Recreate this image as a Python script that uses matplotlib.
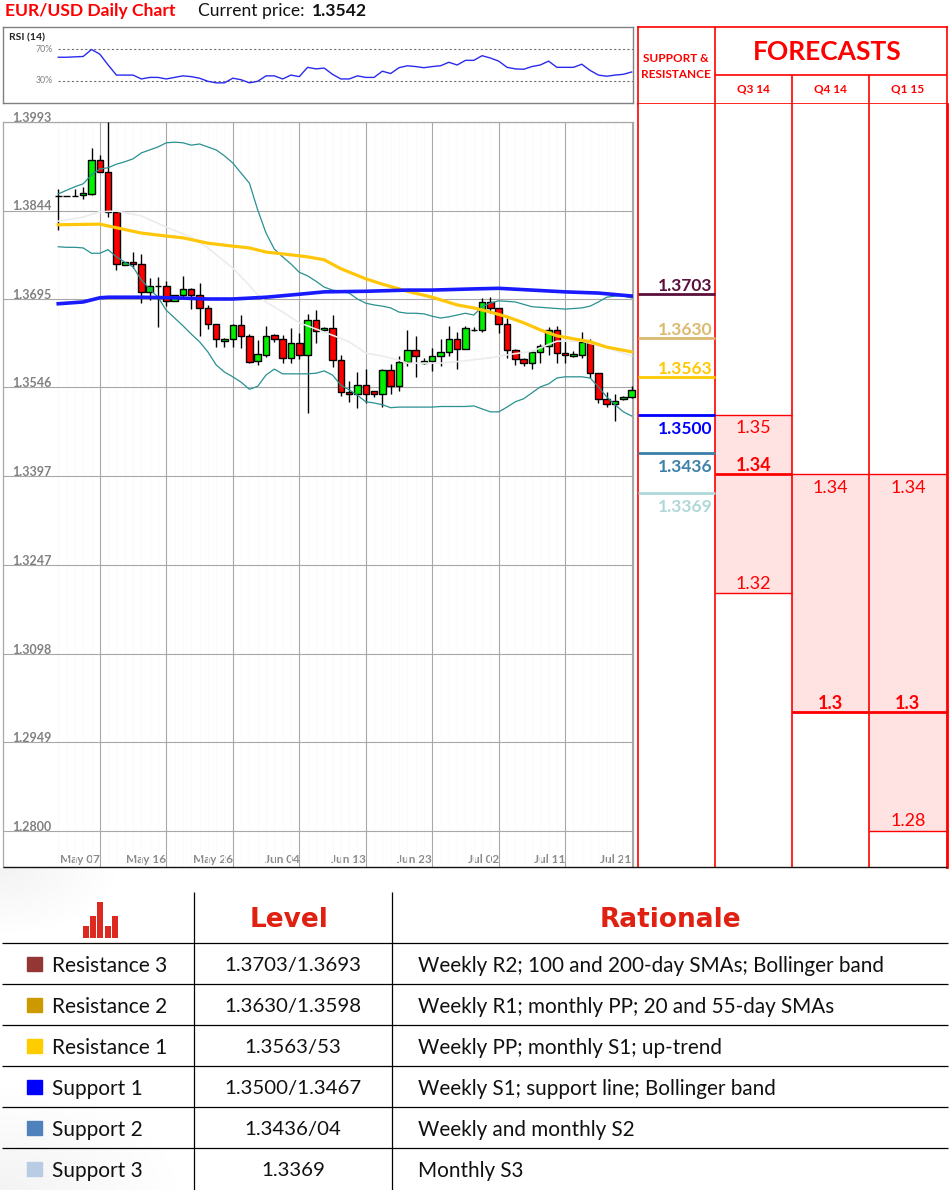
import numpy as np
import matplotlib
matplotlib.use('Agg')
import matplotlib.pyplot as plt
from matplotlib.patches import Rectangle
from matplotlib.transforms import ScaledTranslation

plt.rcParams['font.family'] = ['Lato', 'DejaVu Sans']

# daily candles
opens = [1.3868, 1.3868, 1.3868, 1.3870, 1.3872, 1.3929, 1.3909, 1.3842, 1.3752, 1.3757,
         1.3754, 1.3707, 1.3717, 1.3717, 1.3692, 1.3702, 1.3712, 1.3702, 1.3680, 1.3653,
         1.3624, 1.3628, 1.3651, 1.3633, 1.3591, 1.3601, 1.3634, 1.3628, 1.3596, 1.3621,
         1.3601, 1.3660, 1.3643, 1.3646, 1.3592, 1.3538, 1.3535, 1.3550, 1.3540, 1.3535,
         1.3575, 1.3548, 1.3589, 1.3609, 1.3587, 1.3591, 1.3599, 1.3606, 1.3628, 1.3611,
         1.3643, 1.3643, 1.3690, 1.3680, 1.3653, 1.3609, 1.3594, 1.3587, 1.3606, 1.3616,
         1.3643, 1.3604, 1.3599, 1.3601, 1.3623, 1.3570, 1.3527, 1.3518, 1.3527, 1.3530]
highs = [1.3880, 1.3868, 1.3880, 1.3884, 1.3949, 1.3937, 1.3993, 1.3842, 1.3757, 1.3774,
         1.3771, 1.3730, 1.3732, 1.3725, 1.3702, 1.3734, 1.3714, 1.3722, 1.3685, 1.3653,
         1.3629, 1.3653, 1.3668, 1.3636, 1.3626, 1.3650, 1.3636, 1.3634, 1.3646, 1.3638,
         1.3670, 1.3676, 1.3648, 1.3668, 1.3601, 1.3557, 1.3572, 1.3577, 1.3540, 1.3577,
         1.3586, 1.3599, 1.3643, 1.3633, 1.3596, 1.3613, 1.3628, 1.3650, 1.3639, 1.3650,
         1.3648, 1.3697, 1.3698, 1.3680, 1.3663, 1.3611, 1.3596, 1.3609, 1.3619, 1.3648,
         1.3650, 1.3624, 1.3607, 1.3639, 1.3628, 1.3570, 1.3538, 1.3535, 1.3532, 1.3549]
lows = [1.3811, 1.3868, 1.3868, 1.3863, 1.3870, 1.3909, 1.3833, 1.3744, 1.3752, 1.3747,
        1.3688, 1.3693, 1.3648, 1.3683, 1.3692, 1.3698, 1.3678, 1.3633, 1.3644, 1.3614,
        1.3614, 1.3614, 1.3612, 1.3587, 1.3584, 1.3597, 1.3623, 1.3587, 1.3587, 1.3594,
        1.3503, 1.3621, 1.3641, 1.3580, 1.3532, 1.3522, 1.3512, 1.3520, 1.3530, 1.3513,
        1.3535, 1.3540, 1.3582, 1.3564, 1.3586, 1.3574, 1.3582, 1.3599, 1.3577, 1.3611,
        1.3641, 1.3639, 1.3671, 1.3638, 1.3596, 1.3584, 1.3582, 1.3577, 1.3587, 1.3601,
        1.3587, 1.3587, 1.3597, 1.3596, 1.3562, 1.3520, 1.3513, 1.3490, 1.3525, 1.3528]
closes = [1.3868, 1.3868, 1.3868, 1.3873, 1.3929, 1.3909, 1.3842, 1.3754, 1.3757, 1.3754,
          1.3707, 1.3717, 1.3717, 1.3692, 1.3702, 1.3712, 1.3702, 1.3680, 1.3653, 1.3628,
          1.3628, 1.3651, 1.3633, 1.3589, 1.3602, 1.3633, 1.3628, 1.3596, 1.3621, 1.3601,
          1.3660, 1.3641, 1.3646, 1.3592, 1.3538, 1.3535, 1.3550, 1.3535, 1.3535, 1.3575,
          1.3548, 1.3589, 1.3609, 1.3599, 1.3591, 1.3599, 1.3606, 1.3628, 1.3611, 1.3646,
          1.3643, 1.3690, 1.3680, 1.3653, 1.3609, 1.3594, 1.3587, 1.3606, 1.3616, 1.3643,
          1.3604, 1.3601, 1.3602, 1.3623, 1.3570, 1.3527, 1.3518, 1.3523, 1.3530, 1.3542]

# indicators, one value per day
bb_upper = [1.3872, 1.3878, 1.3884, 1.3889, 1.3904, 1.3914, 1.3916, 1.3922, 1.3926, 1.3931,
            1.3941, 1.3946, 1.3951, 1.3958, 1.3959, 1.3958, 1.3954, 1.3956, 1.3951, 1.3946,
            1.3936, 1.3924, 1.3907, 1.3890, 1.3845, 1.3806, 1.3779, 1.3766, 1.3754, 1.3740,
            1.3734, 1.3725, 1.3715, 1.3710, 1.3708, 1.3705, 1.3695, 1.3688, 1.3685, 1.3683,
            1.3680, 1.3673, 1.3671, 1.3671, 1.3670, 1.3666, 1.3663, 1.3665, 1.3668, 1.3671,
            1.3668, 1.3682, 1.3688, 1.3692, 1.3691, 1.3690, 1.3686, 1.3682, 1.3681, 1.3680,
            1.3679, 1.3678, 1.3679, 1.3680, 1.3683, 1.3690, 1.3698, 1.3700, 1.3700, 1.3697]
bb_lower = [1.3783, 1.3782, 1.3782, 1.3781, 1.3772, 1.3772, 1.3778, 1.3766, 1.3757, 1.3749,
            1.3727, 1.3712, 1.3698, 1.3676, 1.3663, 1.3650, 1.3636, 1.3623, 1.3606, 1.3584,
            1.3572, 1.3564, 1.3555, 1.3543, 1.3548, 1.3567, 1.3577, 1.3569, 1.3569, 1.3569,
            1.3569, 1.3570, 1.3574, 1.3567, 1.3550, 1.3542, 1.3533, 1.3522, 1.3520, 1.3517,
            1.3512, 1.3513, 1.3513, 1.3513, 1.3513, 1.3513, 1.3514, 1.3514, 1.3514, 1.3514,
            1.3515, 1.3510, 1.3505, 1.3505, 1.3513, 1.3522, 1.3527, 1.3537, 1.3547, 1.3552,
            1.3562, 1.3564, 1.3564, 1.3564, 1.3562, 1.3547, 1.3530, 1.3517, 1.3505, 1.3498]
sma20_days = [0, 3, 5, 7, 10, 13, 16, 18, 21, 23, 24, 25, 27, 29, 33, 35, 37, 39, 41, 42,
              46, 49, 52, 54, 57, 60, 63, 66, 69]
sma20 = [1.3826, 1.3833, 1.3842, 1.3843, 1.3835, 1.3816, 1.3799, 1.3781, 1.3747, 1.3718,
         1.3702, 1.3690, 1.3673, 1.3655, 1.3634, 1.3623, 1.3604, 1.3599, 1.3592, 1.3587,
         1.3587, 1.3591, 1.3596, 1.3601, 1.3607, 1.3624, 1.3624, 1.3613, 1.3599]
sma55_days = [0, 5, 7, 10, 13, 15, 18, 21, 23, 25, 27, 30, 32, 34, 37, 39, 42, 45, 48, 50,
              52, 54, 56, 58, 60, 62, 64, 66, 69]
sma55 = [1.3820, 1.3821, 1.3815, 1.3806, 1.3801, 1.3798, 1.3789, 1.3784, 1.3781, 1.3774,
         1.3771, 1.3766, 1.3761, 1.3746, 1.3729, 1.3720, 1.3708, 1.3698, 1.3685, 1.3680,
         1.3673, 1.3665, 1.3655, 1.3643, 1.3633, 1.3628, 1.3623, 1.3614, 1.3606]
sma200_days = [0, 3, 5, 6, 10, 14, 18, 21, 25, 29, 32, 37, 42, 45, 50, 53, 57, 61, 65, 69]
sma200 = [1.3687, 1.3690, 1.3697, 1.3698, 1.3698, 1.3697, 1.3695, 1.3695, 1.3698, 1.3703,
          1.3707, 1.3708, 1.3710, 1.3710, 1.3712, 1.3713, 1.3710, 1.3707, 1.3705, 1.3700]
rsi = [60, 60, 60.5, 61, 70, 64, 50, 37, 37, 37,
       32, 34, 34, 32, 34, 36, 35, 33, 29, 27,
       27, 33, 31, 27, 29, 36, 36, 32, 37, 35,
       47, 45, 46, 38, 32, 32, 36, 34, 34, 42,
       39, 46.5, 49, 48, 46.5, 48, 49, 53.5, 50, 56,
       56, 62, 59, 55, 47, 45, 44.5, 48, 50, 55,
       47, 47, 47, 51, 43, 37, 35.5, 37, 38, 41]

# axis labels
price_ticks = [1.3993, 1.3844, 1.3695, 1.3546, 1.3397, 1.3247, 1.3098, 1.2949, 1.2800]
date_days = [5, 13, 21, 29, 37, 45, 53, 61, 69]
date_labels = ['May 07', 'May 16', 'May 26', 'Jun 04', 'Jun 13', 'Jun 23', 'Jul 02', 'Jul 11', 'Jul 21']

# support and resistance
sr_levels = [1.3703, 1.3630, 1.3563, 1.3500, 1.3436, 1.3369]
sr_colors = ['#5b0f3b', '#dcb96e', '#ffc800', '#0000ff', '#3d80a8', '#b0d8d8']

# forecasts
quarters = ['Q3 14', 'Q4 14', 'Q1 15']
fc_high = [1.35, 1.34, 1.34]
fc_median = [1.34, 1.30, 1.30]
fc_low = [1.32, 1.30, 1.28]

# table
row_names = ['Resistance 3', 'Resistance 2', 'Resistance 1', 'Support 1', 'Support 2', 'Support 3']
row_colors = ['#943634', '#cc9900', '#ffcc00', '#0000ff', '#4f81bd', '#b8cce4']
row_levels = ['1.3703/1.3693', '1.3630/1.3598', '1.3563/53', '1.3500/1.3467', '1.3436/04', '1.3369']
row_reasons = ['Weekly R2; 100 and 200-day SMAs; Bollinger band',
               'Weekly R1; monthly PP; 20 and 55-day SMAs',
               'Weekly PP; monthly S1; up-trend',
               'Weekly S1; support line; Bollinger band',
               'Weekly and monthly S2',
               'Monthly S3']
icon_bars = [12, 22, 36, 12, 22]

W, H = 949, 1190
RED = '#ff0000'
fig = plt.figure(figsize=(W / 100, H / 100), dpi=100)


def ax_px(x0, y0, x1, y1):
    return fig.add_axes([x0 / W, 1 - y1 / H, (x1 - x0) / W, (y1 - y0) / H])


# page layer in pixels, for the title and the table
page = ax_px(0, 0, W, H)
page.set_zorder(3)
page.patch.set_alpha(0)
page.axis('off')

page.text(5, 11, 'EUR/USD Daily Chart', color=RED, fontsize=12.6, fontweight='bold', va='center')
page.text(198, 11, 'Current price:', color='#111111', fontsize=12.6, va='center')
page.text(312, 11, '1.3542', color='#111111', fontsize=12.6, fontweight='bold', va='center')

# faint grey shading behind the left of the table
yy, xx = np.mgrid[868:H, 0:200]
shade = np.clip(1 - np.hypot(xx / 190, (yy - H) / 110), 0, 1) * 0.05
shade = np.maximum(shade, np.clip(1 - np.hypot(xx / 125, (yy - 868) / 70), 0, 1) * 0.05)
page.imshow(np.dstack([np.zeros_like(shade)] * 3 + [shade]), extent=(0, 200, H, 868), aspect='auto', zorder=0)
page.set_xlim(0, W)
page.set_ylim(H, 0)

# rsi panel
x_min, x_max = -6.65, 69.1
rs = ax_px(3, 27, 632.5, 103)
rs.set_xlim(x_min, x_max)
rs.set_ylim(1, 99)
rs.set_xticks([])
rs.set_yticks([])
for s in rs.spines.values():
    s.set_color('#808080')
    s.set_linewidth(1)
days = list(range(len(rsi)))
rs.hlines([70, 30], 0, x_max, color='#707070', lw=0.8, linestyles=(0, (2, 2)))
rs.plot(days, rsi, color='#2a2aee', lw=1)
rs.text(-5.95, 85, 'RSI (14)', fontsize=7.5, fontweight='bold', color='#222222', va='center')
rs.text(-0.7, 70, '70%', fontsize=6.3, color='#808080', ha='right', va='center')
rs.text(-0.7, 30, '30%', fontsize=6.3, color='#808080', ha='right', va='center')

# price panel
px_price = 0.0149 / 88.5
y_top = 1.3993
y_bot = y_top - 745 * px_price
ax = ax_px(3, 122, 632.5, 867)
ax.set_xlim(x_min, x_max)
ax.set_ylim(y_bot, y_top)
for s in ax.spines.values():
    s.set_color('#a8a8a8')
    s.set_linewidth(0.9)
ax.spines['bottom'].set_visible(False)

ax.set_xticks(date_days)
ax.set_xticklabels(date_labels, ha='right', fontsize=8.5, fontweight='bold', color='#8c8c8c')
shift = ScaledTranslation(-3 / 100, 0, fig.dpi_scale_trans)
for lab in ax.get_xticklabels():
    lab.set_transform(lab.get_transform() + shift)
ax.set_xticks(days, minor=True)
ax.set_yticks(price_ticks)
ax.set_yticklabels([f'{p:.4f}' for p in price_ticks], fontsize=9, fontweight='bold', color='#808080',
                   ha='left', va='baseline')
ax.tick_params(axis='x', which='major', length=0, pad=-9.5)
ax.tick_params(axis='x', which='minor', length=0)
ax.tick_params(axis='y', length=0, pad=-6.5)
ax.grid(True, which='major', color='#a8a8a8', lw=0.8)
ax.grid(True, which='minor', axis='x', color='#fafafa', lw=0.7)
ax.set_axisbelow(True)

colors = ['#00f000' if c > o else RED for o, c in zip(opens, closes)]
ax.vlines(days, lows, highs, color='black', lw=1, zorder=3, clip_on=False)
ax.bar(days, [c - o for o, c in zip(opens, closes)], bottom=opens, width=0.78, color=colors,
       edgecolor='black', linewidth=1, zorder=4, clip_on=False)

ax.plot(sma20_days, sma20, color='#ececec', lw=1.2, zorder=5)
ax.plot(days, bb_upper, color='#2a9090', lw=0.9, zorder=6)
ax.plot(days, bb_lower, color='#2a9090', lw=0.9, zorder=6)
ax.plot(sma55_days, sma55, color='#ffc60a', lw=2.3, zorder=7)
ax.plot(sma200_days, sma200, color='#1a1aff', lw=2.6, zorder=8)

# forecast header
head = ax_px(637.5, 26.5, 946.5, 103.5)
head.set_xlim(0, 4)
head.set_ylim(77, 0)
head.set_xticks([])
head.set_yticks([])
for s in head.spines.values():
    s.set_color(RED)
    s.set_linewidth(1.2)
head.vlines(1, 0, 77, color=RED, lw=1.2)
head.hlines(48, 1, 4, color=RED, lw=1.2)
head.vlines([2, 3], 48, 77, color=RED, lw=1.2)
head.text(0.5, 32, 'SUPPORT &', color=RED, fontsize=8.5, fontweight='bold', ha='center', va='center')
head.text(0.5, 48, 'RESISTANCE', color=RED, fontsize=8.5, fontweight='bold', ha='center', va='center')
head.text(2.45, 25, 'FORECASTS', color=RED, fontsize=19, fontweight='bold', ha='center', va='center')
for i, q in enumerate(quarters):
    head.text(i + 1.5, 62.5, q, color=RED, fontsize=8.5, fontweight='bold', ha='center', va='center')

# forecast columns, same price scale as the chart
fc = ax_px(637.5, 103.5, 946.5, 867)
fc.set_xlim(0, 4)
fc.set_ylim(y_bot, y_top + 18.5 * px_price)
fc.set_xticks([])
fc.set_yticks([])
for side, s in fc.spines.items():
    s.set_color(RED)
    s.set_linewidth(1.2)
fc.spines['right'].set_linewidth(2)
fc.spines['top'].set_visible(False)
fc.spines['bottom'].set_visible(False)
fc.vlines([1, 2, 3], y_bot, y_top + 18.5 * px_price, color=RED, lw=1.2, zorder=4)

for i, level in enumerate(sr_levels):
    fc.hlines(level, 0, 1, color=sr_colors[i], lw=2, zorder=5)
    off = 0 if i < 3 else -4.5
    fc.annotate(f'{level:.4f}', (1, level), xytext=(-1.5, off), textcoords='offset points', ha='right',
                va='bottom' if i < 3 else 'top', color=sr_colors[i], fontsize=12.5, fontweight='bold')

for i in range(3):
    col = i + 1
    fc.bar(col + 0.5, fc_high[i] - fc_low[i], bottom=fc_low[i], width=1, color='#ffe2e2', zorder=1)
    fc.hlines(fc_high[i], col, col + 1, color=RED, lw=1, zorder=3)
    fc.hlines(fc_low[i], col, col + 1, color=RED, lw=1, zorder=3)
    fc.hlines(fc_median[i], col, col + 1, color=RED, lw=2, zorder=3)
    fc.annotate(f'{fc_high[i]:g}', (col + 0.5, fc_high[i]), xytext=(0, -4), textcoords='offset points',
                ha='center', va='top', color=RED, fontsize=13)
    fc.annotate(f'{fc_median[i]:g}', (col + 0.5, fc_median[i]), xytext=(0, 0), textcoords='offset points',
                ha='center', va='bottom', color=RED, fontsize=13, fontweight='bold')
    if fc_low[i] != fc_median[i]:
        fc.annotate(f'{fc_low[i]:g}', (col + 0.5, fc_low[i]), xytext=(0, 1), textcoords='offset points',
                    ha='center', va='bottom', color=RED, fontsize=13)

# table
page.hlines(867, 3, 947, color='#111111', lw=1)
row_h = 41
rows_top = 943.3
page.hlines([rows_top + i * row_h for i in range(6)], 2, 948, color='black', lw=0.9)
page.vlines([194.5, 392.5], 892, H, color='black', lw=0.9)
page.text(289, 920, 'Level', color='#e02010', fontsize=19, fontweight='bold', family='DejaVu Sans',
          ha='center', va='center')
page.text(670, 920, 'Rationale', color='#e02010', fontsize=19, fontweight='bold', family='DejaVu Sans',
          ha='center', va='center')

for i, h in enumerate(icon_bars):
    page.bar(86 + i * 7.2, -h, bottom=938, width=6, color='#dd2a20')

for i in range(6):
    yc = rows_top + row_h * (i + 0.5)
    page.add_patch(Rectangle((27.5, yc - 7), 14.5, 14.5, color=row_colors[i]))
    page.text(52, yc + 2, row_names[i], fontsize=15, color='#111111', va='center')
    page.text(293, yc + 2, row_levels[i], fontsize=14.7, color='#111111', ha='center', va='center')
    page.text(418, yc + 2, row_reasons[i], fontsize=14.9, color='#111111', va='center')

fig.savefig('out.png', dpi=100)
